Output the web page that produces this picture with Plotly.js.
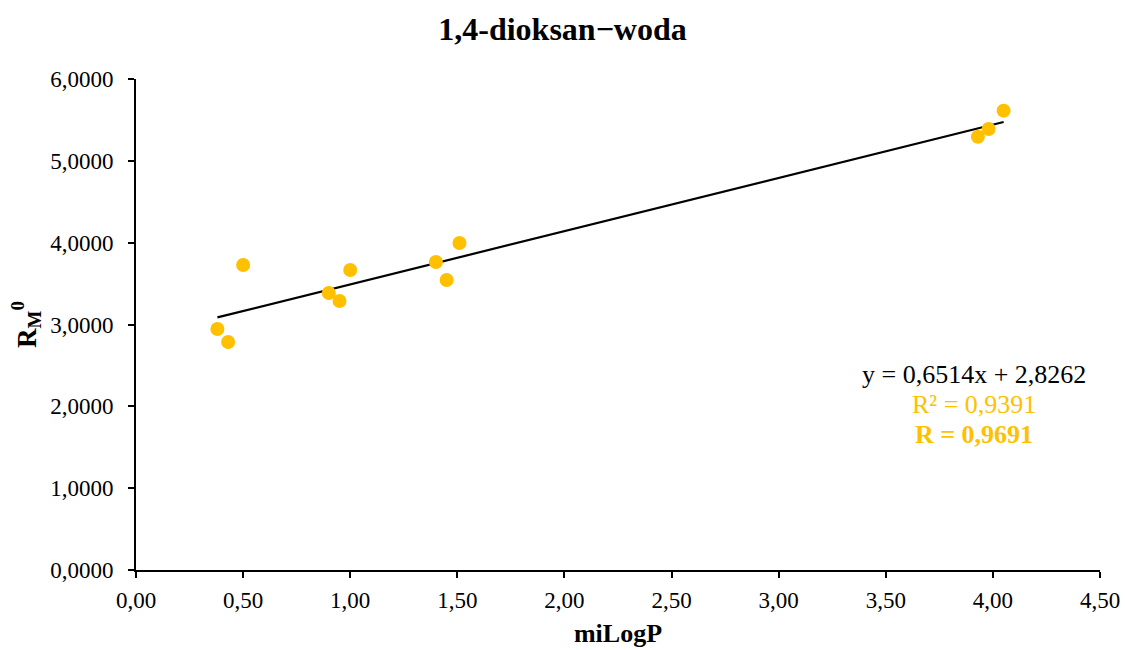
<!DOCTYPE html>
<html><head><meta charset="utf-8">
<script src="https://cdn.plot.ly/plotly-3.0.1.min.js"></script>
<style>body{margin:0;background:#fff}#chart{width:1125px;height:650px}</style>
</head><body><div id="chart"></div>
<script>
const miLogP = [0.38, 0.43, 0.50, 0.90, 0.95, 1.00, 1.40, 1.45, 1.51, 3.93, 3.98, 4.05];
const RM0    = [2.945, 2.786, 3.727, 3.385, 3.287, 3.666, 3.764, 3.544, 3.996, 5.295, 5.389, 5.613];
const titleText = "1,4-dioksan\u2212woda";
const eqText = "y = 0,6514x + 2,8262";
const r2Text = "R\u00b2 = 0,9391";
const rText = "R = 0,9691";

// least squares trendline from data
const n = miLogP.length;
const mx = miLogP.reduce((a,b)=>a+b,0)/n;
const my = RM0.reduce((a,b)=>a+b,0)/n;
let sxy=0,sxx=0;
for(let i=0;i<n;i++){sxy+=(miLogP[i]-mx)*(RM0[i]-my);sxx+=(miLogP[i]-mx)**2;}
const slope=sxy/sxx, icpt=my-slope*mx;
const xmin=Math.min(...miLogP), xmax=Math.max(...miLogP);

const font = "'Liberation Serif', 'DejaVu Serif', serif";
const data = [
 {x:[xmin,xmax], y:[icpt+slope*xmin, icpt+slope*xmax], mode:'lines', line:{color:'#000',width:2.2}, hoverinfo:'skip'},
 {x:miLogP, y:RM0, mode:'markers', marker:{color:'#FFC000', size:14}}
];
const layout = {
 width:1125, height:650, showlegend:false, separators:", ",
 paper_bgcolor:'#fff', plot_bgcolor:'#fff',
 margin:{l:136, r:25, t:79, b:80},
 font:{family:font, color:'#000', size:23},
 title:{text:'<b>'+titleText+'</b>', font:{family:font,size:32,color:'#000'}, x:0.5, xanchor:'center', y:0.955, yanchor:'middle'},
 xaxis:{range:[0,4.5], dtick:0.5, tick0:0, tickformat:'.2f', showgrid:false, zeroline:false,
   showline:true, linecolor:'#000', linewidth:2, ticks:'outside', ticklen:6, tickwidth:2, tickcolor:'#000',
   ticklabelstandoff:2,
   tickfont:{family:font,size:23,color:'#000'},
   title:{text:'<b>miLogP</b>', font:{family:font,size:26,color:'#000'}, standoff:12}},
 yaxis:{range:[0,6], dtick:1, tick0:0, tickformat:'.4f', showgrid:false, zeroline:false,
   showline:true, linecolor:'#000', linewidth:2, ticks:'outside', ticklen:6, tickwidth:2, tickcolor:'#000',
   ticklabelstandoff:10,
   tickfont:{family:font,size:23,color:'#000'},
   title:{text:'<b>R<sub>M</sub><sup>0</sup></b>', font:{family:font,size:27,color:'#000'}, standoff:6}},
 annotations:[
  {xref:'paper',yref:'paper',x:(974-136)/964,y:(570-374)/491,text:eqText,showarrow:false,xanchor:'center',yanchor:'middle',font:{family:font,size:26,color:'#000'}},
  {xref:'paper',yref:'paper',x:(974-136)/964,y:(570-404)/491,text:r2Text,showarrow:false,xanchor:'center',yanchor:'middle',font:{family:font,size:26,color:'#FFC000'}},
  {xref:'paper',yref:'paper',x:(974-136)/964,y:(570-434)/491,text:'<b>'+rText+'</b>',showarrow:false,xanchor:'center',yanchor:'middle',font:{family:font,size:26,color:'#FFC000'}}
 ]
};
Plotly.newPlot('chart', data, layout, {displayModeBar:false, staticPlot:true});
</script></body></html>
